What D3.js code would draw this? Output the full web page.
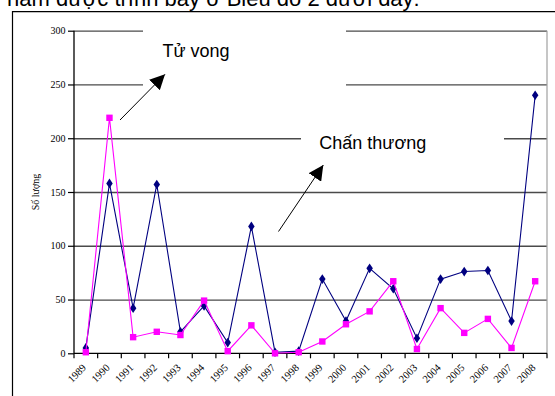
<!DOCTYPE html>
<html><head><meta charset="utf-8">
<script src="https://cdn.jsdelivr.net/npm/d3@7"></script>
<style>
html,body{margin:0;padding:0;background:#fff;}
svg{display:block;}
</style></head>
<body>
<script>
const years = ["1989","1990","1991","1992","1993","1994","1995","1996","1997","1998","1999","2000","2001","2002","2003","2004","2005","2006","2007","2008"];
const seriesBlue = [5,158,42,157,20,44,10,118,1,2,69,30,79,60,14,69,76,77,30,240];
const seriesMagenta = [1,219,15,20,17,49,2,26,0,1,11,27,39,67,4,42,19,32,5,67];
const yTicks = [0,50,100,150,200,250,300];
const yTitle = "Số lượng";
const labelDeath = "Tử vong";
const labelInjury = "Chấn thương";
const headerText = "năm được trình bày ở Biểu đồ 2 dưới đây:";

(function () {
const W = 555, H = 396;
const svg = d3.select("body").append("svg").attr("width", W).attr("height", H);

// header (cropped document text, as in the reference)
svg.append("text").attr("x", 7).attr("y", 5.5)
  .attr("font-family", "Liberation Sans, Arial, sans-serif").attr("font-size", 22)
  .attr("fill", "#000").text(headerText);

// outer frame
svg.append("path").attr("d", "M12.5,396 V11.7 H555").attr("fill", "none").attr("stroke", "#000").attr("stroke-width", 1.2);

const pL = 74, pR = 547, pT = 30.7, pB = 353.3;
const x = d3.scaleBand().domain(years).range([pL, pR]).padding(0);
const y = d3.scaleLinear().domain([0, 300]).range([pB, pT]);

// gridlines
const grid = svg.append("g").attr("transform", `translate(${pL},0)`)
  .call(d3.axisLeft(y).tickValues(yTicks.filter(d => d > 0)).tickSize(-(pR - pL)).tickFormat(""));
grid.select(".domain").remove();
grid.selectAll("line").attr("stroke", "#4a4a4a").attr("stroke-width", 1.3);

// right border
svg.append("line").attr("x1", pR).attr("x2", pR).attr("y1", pT).attr("y2", pB)
  .attr("stroke", "#a0a0a0").attr("stroke-width", 1.2);

// white text boxes covering gridlines
svg.append("rect").attr("x", 143).attr("y", 24).attr("width", 203).attr("height", 70).attr("fill", "#fff");
svg.append("rect").attr("x", 301).attr("y", 118).attr("width", 203).attr("height", 42).attr("fill", "#fff");

// y axis
const ya = svg.append("g").attr("transform", `translate(${pL},0)`)
  .call(d3.axisLeft(y).tickValues(yTicks).tickSize(6).tickPadding(2.5));
ya.select(".domain").attr("stroke", "#000").attr("stroke-width", 1.3).attr("d", `M0,${pT}V${pB}`);
ya.selectAll("line").attr("stroke", "#000").attr("stroke-width", 1.2);
ya.selectAll("text").attr("font-family", "Liberation Serif, Times New Roman, serif").attr("font-size", 10).attr("fill", "#000");

// x axis
const xa = svg.append("g").attr("transform", `translate(0,${pB})`);
xa.append("line").attr("x1", pL).attr("x2", pR).attr("y1", 0).attr("y2", 0).attr("stroke", "#000").attr("stroke-width", 1.3);
const bounds = years.map(d => x(d)).concat([pR]);
xa.selectAll("line.tick").data(bounds).enter().append("line").attr("class", "tick")
  .attr("x1", d => d).attr("x2", d => d).attr("y1", 0).attr("y2", 5).attr("stroke", "#000").attr("stroke-width", 1.2);
xa.selectAll("text").data(years).enter().append("text")
  .attr("transform", d => `translate(${x(d) + x.bandwidth() / 2 + 1},${15}) rotate(-45)`)
  .attr("text-anchor", "end")
  .attr("font-family", "Liberation Serif, Times New Roman, serif").attr("font-size", 10.5).attr("fill", "#000")
  .text(d => d);

// y title
svg.append("text").attr("transform", `translate(39,${(pT + pB) / 2}) rotate(-90)`)
  .attr("text-anchor", "middle").attr("font-family", "Liberation Serif, Times New Roman, serif")
  .attr("font-size", 10).attr("fill", "#000").text(yTitle);

const cx = d => x(d) + x.bandwidth() / 2;
const line = d3.line().x((v, i) => cx(years[i])).y(v => y(v));

// blue series
svg.append("path").attr("d", line(seriesBlue)).attr("fill", "none").attr("stroke", "#000080").attr("stroke-width", 1.1);
svg.selectAll("path.bm").data(seriesBlue).enter().append("path").attr("class", "bm")
  .attr("d", d3.symbol().type(d3.symbolDiamond).size(30))
  .attr("transform", (v, i) => `translate(${cx(years[i])},${y(v)}) scale(1.1,0.95)`).attr("fill", "#000080");

// magenta series
svg.append("path").attr("d", line(seriesMagenta)).attr("fill", "none").attr("stroke", "#ff00ff").attr("stroke-width", 1.1);
svg.selectAll("rect.mm").data(seriesMagenta).enter().append("rect").attr("class", "mm")
  .attr("x", (v, i) => cx(years[i]) - 3.2).attr("y", v => y(v) - 3.2).attr("width", 6.4).attr("height", 6.4).attr("fill", "#ff00ff");

// annotations
const defs = svg.append("defs");
defs.append("marker").attr("id", "ah").attr("viewBox", "0 0 10 10").attr("refX", 10).attr("refY", 5)
  .attr("markerWidth", 15).attr("markerHeight", 15).attr("markerUnits", "userSpaceOnUse").attr("orient", "auto")
  .append("path").attr("d", "M0,0 L10,5 L0,10 Z").attr("fill", "#000");

svg.append("line").attr("x1", 120).attr("y1", 120).attr("x2", 165).attr("y2", 74.3)
  .attr("stroke", "#000").attr("stroke-width", 1).attr("marker-end", "url(#ah)");
svg.append("line").attr("x1", 278.5).attr("y1", 231.5).attr("x2", 323.3).attr("y2", 165)
  .attr("stroke", "#000").attr("stroke-width", 1).attr("marker-end", "url(#ah)");

svg.append("text").attr("x", 162.5).attr("y", 56.5).attr("font-family", "Liberation Sans, Arial, sans-serif")
  .attr("font-size", 18).attr("fill", "#000").text(labelDeath);
svg.append("text").attr("x", 319.3).attr("y", 148.5).attr("font-family", "Liberation Sans, Arial, sans-serif")
  .attr("font-size", 18).attr("fill", "#000").text(labelInjury);
})();
</script>
</body></html>
